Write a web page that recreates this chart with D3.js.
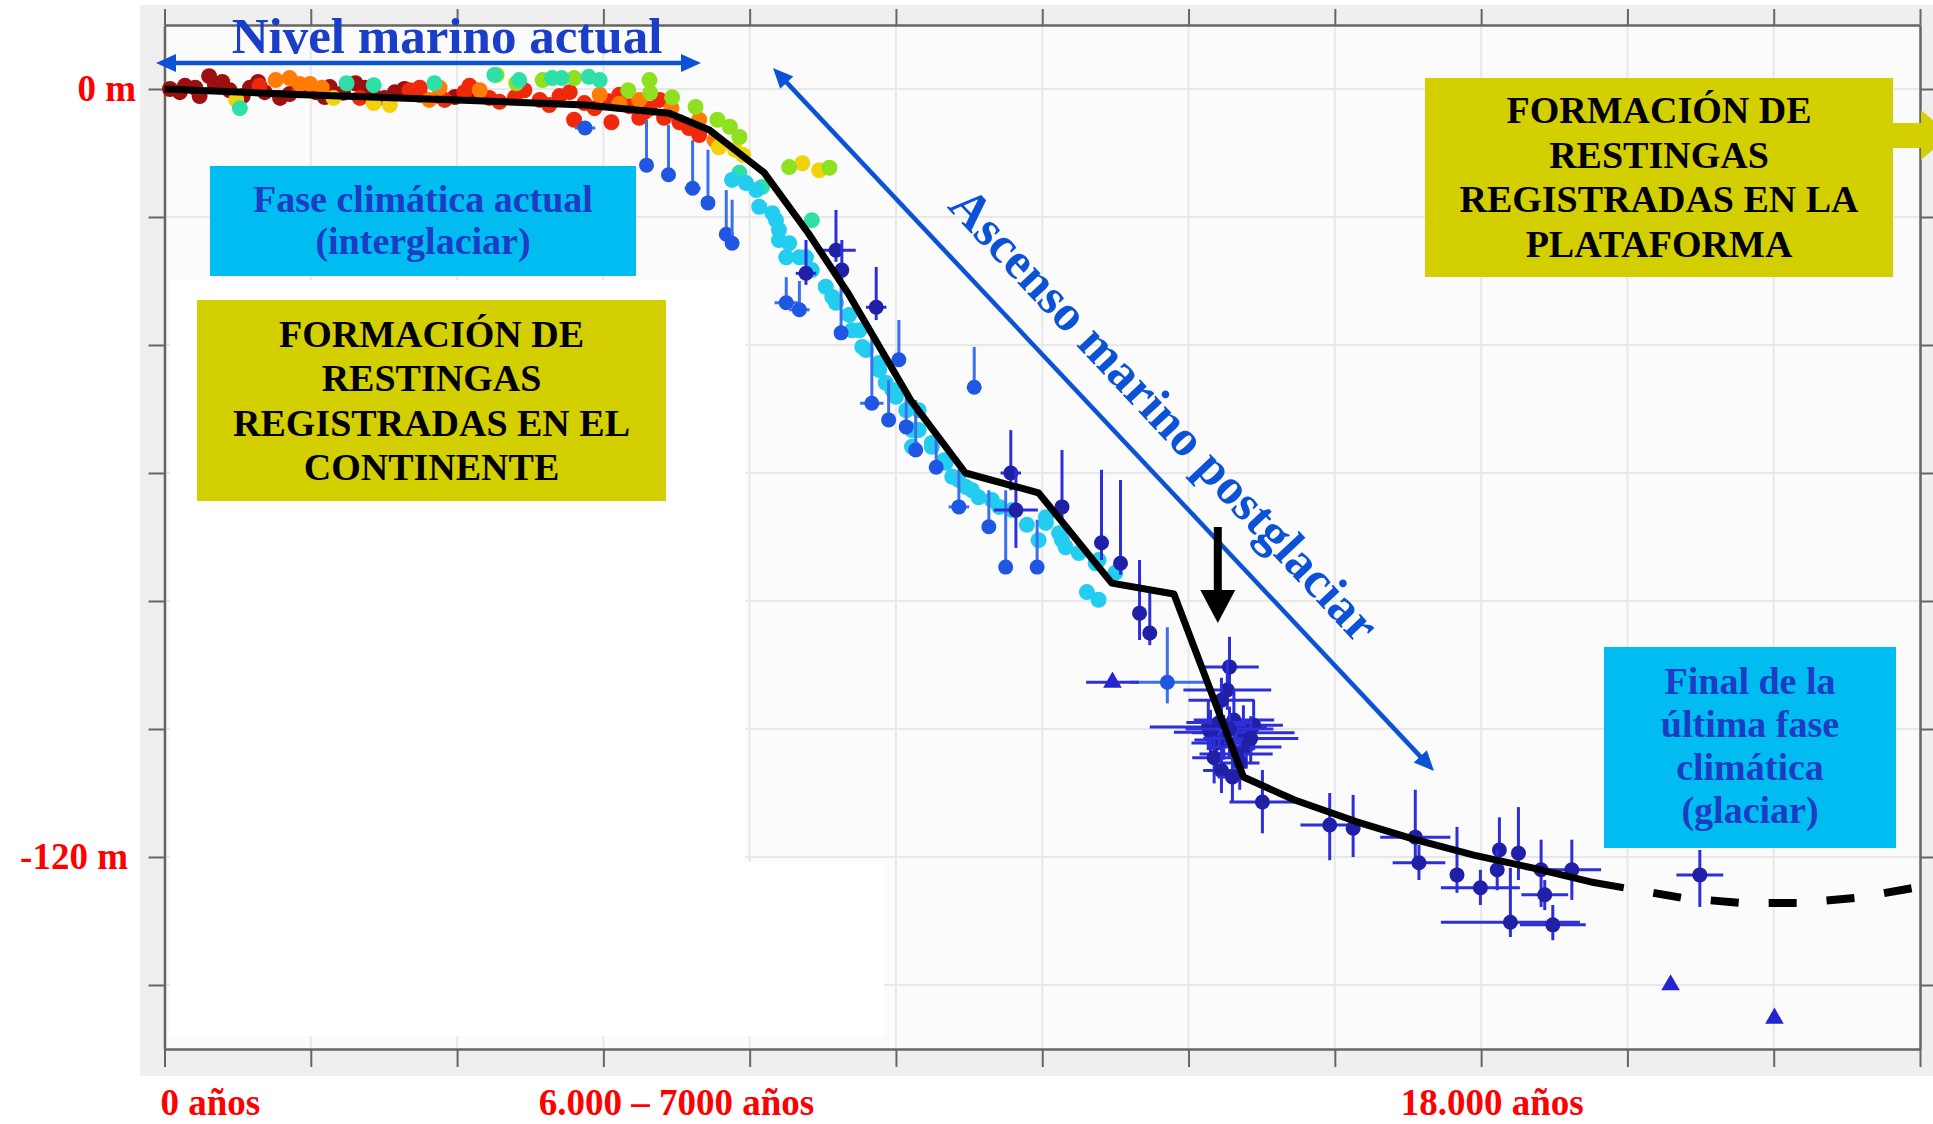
<!DOCTYPE html>
<html>
<head>
<meta charset="utf-8">
<script src="https://cdn.jsdelivr.net/npm/d3@7"></script>
<style>
  body { margin: 0; background: #fff; }
  svg { display: block; }
  text { font-family: "Liberation Serif", "Times New Roman", serif; font-weight: bold; }
</style>
</head>
<body>
<div id="chart"></div>
<script>
/* global d3 */

var width = 1933,
  height = 1124;

// axis ticks (years before present, metres)
var yearTicks = [ 0, 2000, 4000, 6000, 8000, 10000, 12000, 14000, 16000, 18000, 20000, 22000, 24000 ];
var levelTicks = [ -140, -120, -100, -80, -60, -40, -20, 0 ];
var yLabelValues = [ 0, -120 ];
var yLabelText = [ "0 m", "-120 m" ];
var xLabelYears = [ 0, 7000, 18000 ];
var xLabelText = [ "0 años", "6.000 \u2013 7000 años", "18.000 años" ];

// sea level curve
var curveYears = [ 0, 1900, 4000, 5750, 6900, 7450, 8200, 8800, 9350, 10200, 10950, 11950, 12950, 13800, 14750, 15450, 16300, 17100, 17900, 18700, 19500, 19950 ];
var curveLevels = [ 0, -0.9, -1.7, -2.5, -3.8, -6.4, -13.1, -22.5, -32.0, -48.6, -60.0, -63.1, -77.2, -78.9, -107.5, -111.1, -114.5, -117.3, -119.7, -121.7, -123.9, -124.8 ];
var dashedYears = [ 19950, 20760, 21560, 22330, 23190, 23970 ];
var dashedLevels = [ -124.8, -126.4, -127.2, -127.2, -126.3, -124.7 ];

// holocene records, [year, level], one array per colour
var darkRedPts = [ [75,0],[210,-0.5],[280,0.5],[420,0.2],[480,-1.1],[610,2.0],[690,0.6],[790,1.1],[890,-0.2],[1070,-1.1],[1170,0.2],[1280,1.1],[1370,-0.5],
  [1580,-1.4],[1710,-0.8],[1850,0.5],[2070,-0.5],[2190,-1.25],[2260,0.3],[2440,-0.6],[2610,0.9],[2740,0.2],[2870,-1.1],[3010,-1.4],[3150,-0.5],
  [3280,0],[3490,-0.9],[3970,-1.25],[4240,-0.2] ];
var redPts = [ [1300,0.5],[1850,-0.2],[2670,-1.4],[3350,-0.2],[3490,0.2],[3760,-1.1],[3830,-1.7],[4100,-0.5],[4170,0.5],[4440,-1.4],[4580,-2.0],
  [4790,-1.3],[4920,-0.2],[5130,-1.7],[5260,-2.5],[5400,-1.1],[5540,-0.5],[5600,-4.8],[5740,-2.2],[5880,-3.0],[6080,-1.9],[6110,-5.2],[6220,-0.9],
  [6360,-2.7],[6490,-4.5],[6560,-3.6],[6630,-3.1],[6770,-1.7],[6830,-4.5],[7040,-5.2],[7170,-6.1],[7310,-7.2] ];
var orangePts = [ [1520,1.4],[1710,1.7],[1850,0.8],[1990,0.8],[2150,0.2],[3620,-1.7],[3760,0.2],[4310,-0.2],[5950,-0.9],[6220,-2.3],[6490,-1.7],
  [6930,-3.0],[7310,-4.8],[7520,-8.0] ];
var yellowPts = [ [980,-1.7],[2310,-1.4],[2860,-2.2],[3080,-2.5],[7580,-9.1],[7800,-9.5],[7910,-10.3],[8720,-11.6],[8950,-12.7] ];
var greenPts = [ [4540,2.2],[4810,0.9],[5170,1.4],[5600,1.7],[6340,-0.2],[6640,-0.6],[6940,-1.3],[7260,-2.8],[7560,-4.8],[7730,-5.9],[7860,-7.5],
  [8540,-12.2],[9090,-12.3],[6630,1.4] ];
var tealPts = [ [1030,-3.0],[2490,0.9],[2860,0.6],[3690,0.9],[4510,2.2],[4850,1.4],[5300,1.7],[5430,1.7],[5800,1.9],[5950,1.4],[7860,-13.1],
  [8170,-15.3],[8850,-20.5] ];
var cyanPts = [ [7760,-14.2],[7950,-14.7],[8090,-15.8],[8130,-18.4],[8310,-19.4],[8360,-20.5],[8400,-22.0],[8400,-23.6],[8500,-26.3],[8540,-24.1],
  [8680,-26.3],[8770,-26.3],[8850,-28.3],[9040,-30.9],[9130,-32.5],[9180,-33.4],[9360,-35.3],[9400,-37.7],[9500,-37.7],[9540,-40.3],[9590,-40.8],
  [9770,-42.8],[9770,-43.9],[9860,-45.9],[9950,-47.0],[10000,-48.1],[10140,-50.2],[10220,-53.3],[10220,-55.9],[10310,-50.2],[10310,-53.3],
  [10490,-55.3],[10490,-55.9],[10660,-58.0],[10680,-58.4],[10770,-60.6],[10860,-61.1],[10960,-62.2],[11040,-62.7],[11130,-63.8],[11310,-64.2],
  [11410,-65.3],[11590,-65.8],[11790,-68.1],[11950,-70.5],[12050,-66.9],[12050,-67.8],[12230,-69.4],[12270,-70.5],[12320,-71.6],[12500,-72.5],
  [12610,-78.6],[12730,-74.1],[12770,-73.6],[12770,-79.8],[13000,-75.6] ];

var holoGroups = [ darkRedPts, redPts, orangePts, yellowPts, greenPts, tealPts, cyanPts ];
var holoColors = [ "#9e0f0f", "#f0280c", "#ff7c06", "#f2d20a", "#8fe01e", "#2ee0a8", "#22cdf0" ];

// limiting data, [year, level, top, bottom, year error]
var bluePts = [
  [5750,-6.1,-5.2,-6.1,140], [6590,-11.9,-4.8,-11.9,0], [6890,-13.4,-5.6,-13.4,0], [7220,-15.5,-8.0,-15.5,110],
  [7430,-17.8,-9.5,-17.8,0], [7680,-22.7,-15.8,-22.7,80], [7760,-24.1,-17.3,-24.1,0], [8500,-33.4,-29.4,-33.4,160],
  [8680,-34.5,-30.0,-34.5,140], [9250,-38.1,-28.3,-38.1,0], [10040,-42.3,-36.1,-42.3,0], [9670,-49.1,-38.8,-49.1,160],
  [9900,-51.7,-45.5,-51.7,0], [10140,-52.8,-47.0,-52.8,0], [10270,-56.4,-48.6,-56.4,0], [10550,-59.1,-54.7,-59.1,0],
  [11070,-46.6,-40.3,-46.6,0], [10860,-65.3,-59.4,-65.3,140], [11270,-68.4,-62.7,-68.4,0], [11500,-74.7,-62.7,-74.7,0],
  [11930,-74.7,-67.3,-74.7,0], [13710,-92.7,-84.1,-96.0,510]
];

// coral / far-field data with error crosses, [year, level, top, bottom, year error]
var navyPts = [
  [8770,-28.8,-23.6,-30.6,140], [9180,-25.2,-18.9,-27.0,270], [9260,-28.3,-23.6,-29.8,0], [9730,-34.1,-27.8,-36.1,140],
  [11570,-60.0,-53.3,-62.7,140], [11640,-65.8,-59.5,-71.7,300], [12270,-65.3,-56.4,-67.3,0], [12810,-70.9,-59.5,-73.6,0],
  [13070,-74.1,-61.1,-75.9,0], [13330,-81.9,-73.6,-86.1,0], [13470,-85.0,-78.3,-86.9,0],
  [14560,-90.3,-85.6,-94.4,400], [14530,-93.9,-89.2,-97.0,600], [14270,-99.7,-95.5,-103.3,800], [14750,-100.6,-96.3,-104.8,700],
  [14480,-101.7,-97.8,-104.8,400], [14380,-102.2,-98.6,-106.2,340], [14790,-102.8,-99.4,-106.2,480], [14700,-105.3,-101.7,-109.5,270],
  [14620,-98.6,-93.9,-102.5,550], [14890,-99.4,-95.5,-103.3,400], [14300,-100.5,-97.0,-104.0,500], [14420,-99.0,-95.0,-103.0,450],
  [14650,-103.9,-100.0,-108.0,500], [14560,-100.0,-96.5,-104.5,600], [14350,-104.5,-101.0,-108.5,300], [14850,-101.5,-98.0,-105.5,650],
  [14450,-106.5,-103.0,-110.0,250], [14600,-107.5,-104.0,-111.5,200], [14450,-95.5,-92.0,-99.0,450],
  [15010,-111.4,-106.4,-116.3,450], [15930,-115.0,-110.0,-120.5,400],
  [16250,-115.5,-110.3,-120.0,0], [17100,-116.9,-109.5,-120.0,480], [17150,-120.9,-118.1,-123.6,360], [17670,-122.8,-115.3,-125.6,0],
  [17990,-124.8,-122.0,-127.5,540], [18250,-118.9,-113.8,-122.5,0], [18510,-119.4,-112.2,-123.6,0], [18220,-122.0,-118.9,-125.2,0],
  [18820,-122.0,-117.3,-127.8,0], [18870,-125.9,-123.6,-128.3,320], [19240,-122.0,-117.3,-126.7,400], [18400,-130.2,-121.7,-132.5,950],
  [18980,-130.6,-127.5,-133.0,450], [20990,-122.8,-118.9,-127.8,320]
];

// triangles, [year, level, year error]
var trianglePts = [ [12960,-92.7,360], [20590,-140.0,0], [22010,-145.2,0] ];

var x = d3.scaleLinear().domain( [ 0, 24000 ] ).range( [ 164.5, 1920 ] );
var y = d3.scaleLinear().domain( [ -150, 10 ] ).range( [ 1049, 25 ] );

var svg = d3.select( "#chart" ).append( "svg" )
  .attr( "width", width )
  .attr( "height", height );

// grey figure margin and plot area
svg.append( "rect" ).attr( "x", 140 ).attr( "y", 5 ).attr( "width", 1793 ).attr( "height", 1071 ).attr( "fill", "#efefef" );
svg.append( "rect" )
  .attr( "x", x( 0 ) ).attr( "y", y( 10 ) )
  .attr( "width", x( 24000 ) - x( 0 ) ).attr( "height", y( -150 ) - y( 10 ) )
  .attr( "fill", "#fbfbfb" );

// faint grid
var grid = svg.append( "g" ).attr( "stroke", "#e8e8e8" ).attr( "stroke-width", 2 );
grid.selectAll( ".gx" ).data( yearTicks ).enter().append( "line" )
  .attr( "x1", x ).attr( "x2", x ).attr( "y1", y( 10 ) ).attr( "y2", y( -150 ) );
grid.selectAll( ".gy" ).data( levelTicks ).enter().append( "line" )
  .attr( "x1", x( 0 ) ).attr( "x2", x( 24000 ) ).attr( "y1", y ).attr( "y2", y );

// white patches pasted over the lower left of the graph
svg.append( "rect" ).attr( "x", 170 ).attr( "y", 280 ).attr( "width", 575 ).attr( "height", 756 ).attr( "fill", "#fff" );
svg.append( "rect" ).attr( "x", 745 ).attr( "y", 862 ).attr( "width", 139 ).attr( "height", 174 ).attr( "fill", "#fff" );

// axes, ticks only
function styleAxis( g ) {
  g.select( ".domain" ).attr( "stroke", "#666" ).attr( "stroke-width", 2.5 );
  g.selectAll( ".tick line" ).attr( "stroke", "#666" ).attr( "stroke-width", 2 );
  g.selectAll( ".tick text" ).remove();
}
svg.append( "g" ).attr( "transform", "translate(0," + y( -150 ) + ")" )
  .call( d3.axisBottom( x ).tickValues( yearTicks ).tickSize( 18 ).tickSizeOuter( 0 ).tickFormat( "" ) ).call( styleAxis );
svg.append( "g" ).attr( "transform", "translate(0," + y( 10 ) + ")" )
  .call( d3.axisTop( x ).tickValues( yearTicks ).tickSize( 16 ).tickSizeOuter( 0 ).tickFormat( "" ) ).call( styleAxis );
svg.append( "g" ).attr( "transform", "translate(" + x( 0 ) + ",0)" )
  .call( d3.axisLeft( y ).tickValues( levelTicks ).tickSize( 16 ).tickSizeOuter( 0 ).tickFormat( "" ) ).call( styleAxis );
svg.append( "g" ).attr( "transform", "translate(" + x( 24000 ) + ",0)" )
  .call( d3.axisRight( y ).tickValues( levelTicks ).tickSize( 13 ).tickSizeOuter( 0 ).tickFormat( "" ) ).call( styleAxis );

// red axis labels
svg.selectAll( ".ylab" ).data( yLabelValues ).enter().append( "text" )
  .attr( "x", function( d, i ) { return i === 0 ? 136 : 128; } )
  .attr( "y", function( d ) { return y( d ) + 12; } )
  .attr( "text-anchor", "end" )
  .attr( "fill", "#ff0000" )
  .style( "font-size", "37px" )
  .text( function( d, i ) { return yLabelText[ i ]; } );

svg.selectAll( ".xlab" ).data( xLabelYears ).enter().append( "text" )
  .attr( "x", function( d, i ) { return i === 0 ? x( d ) - 4 : i === 2 ? x( d ) + 11 : x( d ); } )
  .attr( "y", 1115 )
  .attr( "text-anchor", function( d, i ) { return i === 0 ? "start" : "middle"; } )
  .attr( "fill", "#ff0000" )
  .style( "font-size", "37px" )
  .text( function( d, i ) { return xLabelText[ i ]; } );

// data
var marks = svg.append( "g" );

holoGroups.forEach( function( pts, k ) {
  marks.append( "g" ).selectAll( "circle" ).data( pts ).enter().append( "circle" )
    .attr( "cx", function( d ) { return x( d[ 0 ] ); } )
    .attr( "cy", function( d ) { return y( d[ 1 ] ); } )
    .attr( "r", 8 )
    .attr( "fill", holoColors[ k ] );
} );

function errorPoints( pts, barColor, dotColor ) {
  var g = marks.append( "g" );
  var p = g.selectAll( "g" ).data( pts ).enter().append( "g" );
  p.append( "line" )
    .attr( "x1", function( d ) { return x( d[ 0 ] ); } )
    .attr( "x2", function( d ) { return x( d[ 0 ] ); } )
    .attr( "y1", function( d ) { return y( d[ 2 ] ); } )
    .attr( "y2", function( d ) { return y( d[ 3 ] ); } )
    .attr( "stroke", barColor ).attr( "stroke-width", 3 );
  p.filter( function( d ) { return d[ 4 ] > 0; } ).append( "line" )
    .attr( "x1", function( d ) { return x( d[ 0 ] - d[ 4 ] ); } )
    .attr( "x2", function( d ) { return x( d[ 0 ] + d[ 4 ] ); } )
    .attr( "y1", function( d ) { return y( d[ 1 ] ); } )
    .attr( "y2", function( d ) { return y( d[ 1 ] ); } )
    .attr( "stroke", barColor ).attr( "stroke-width", 3 );
  p.append( "circle" )
    .attr( "cx", function( d ) { return x( d[ 0 ] ); } )
    .attr( "cy", function( d ) { return y( d[ 1 ] ); } )
    .attr( "r", 7.5 )
    .attr( "fill", dotColor );
}

errorPoints( bluePts, "#3a6ff0", "#1f56e2" );
errorPoints( navyPts, "#2d2fd8", "#1f1fa8" );

var tri = marks.append( "g" ).selectAll( "g" ).data( trianglePts ).enter().append( "g" );
tri.filter( function( d ) { return d[ 2 ] > 0; } ).append( "line" )
  .attr( "x1", function( d ) { return x( d[ 0 ] - d[ 2 ] ); } )
  .attr( "x2", function( d ) { return x( d[ 0 ] + d[ 2 ] ); } )
  .attr( "y1", function( d ) { return y( d[ 1 ] ); } )
  .attr( "y2", function( d ) { return y( d[ 1 ] ); } )
  .attr( "stroke", "#2d2fd8" ).attr( "stroke-width", 3 );
tri.append( "path" )
  .attr( "d", d3.symbol( d3.symbolTriangle ).size( 150 ) )
  .attr( "transform", function( d ) { return "translate(" + x( d[ 0 ] ) + "," + y( d[ 1 ] ) + ")"; } )
  .attr( "fill", "#2424d0" );

// sea level curve
var line = d3.line()
  .x( function( d ) { return x( d[ 0 ] ); } )
  .y( function( d ) { return y( d[ 1 ] ); } );

svg.append( "path" )
  .datum( curveYears.map( function( v, i ) { return [ v, curveLevels[ i ] ]; } ) )
  .attr( "d", line )
  .attr( "fill", "none" ).attr( "stroke", "#000" ).attr( "stroke-width", 7 )
  .attr( "stroke-linejoin", "round" );

svg.append( "path" )
  .datum( dashedYears.map( function( v, i ) { return [ v, dashedLevels[ i ] ]; } ) )
  .attr( "d", line )
  .attr( "fill", "none" ).attr( "stroke", "#000" ).attr( "stroke-width", 8 )
  .attr( "stroke-dasharray", "28,30" ).attr( "stroke-dashoffset", 28 );

// annotations
var ann = svg.append( "g" );

function arrowHead( g, x1, y1, x2, y2, len, half, color ) {
  var a = Math.atan2( y2 - y1, x2 - x1 );
  var bx = x2 - len * Math.cos( a ), by = y2 - len * Math.sin( a );
  var px = -Math.sin( a ) * half, py = Math.cos( a ) * half;
  g.append( "path" )
    .attr( "d", "M" + x2 + "," + y2 + "L" + ( bx + px ) + "," + ( by + py ) + "L" + ( bx - px ) + "," + ( by - py ) + "Z" )
    .attr( "fill", color );
}

function doubleArrow( g, x1, y1, x2, y2, color ) {
  var a = Math.atan2( y2 - y1, x2 - x1 ), len = 20;
  g.append( "line" )
    .attr( "x1", x1 + len * 0.8 * Math.cos( a ) ).attr( "y1", y1 + len * 0.8 * Math.sin( a ) )
    .attr( "x2", x2 - len * 0.8 * Math.cos( a ) ).attr( "y2", y2 - len * 0.8 * Math.sin( a ) )
    .attr( "stroke", color ).attr( "stroke-width", 4.5 );
  arrowHead( g, x1, y1, x2, y2, len, 9, color );
  arrowHead( g, x2, y2, x1, y1, len, 9, color );
}

doubleArrow( ann, 156, 63, 701, 63, "#0b52d6" );
doubleArrow( ann, 773, 68, 1434, 771, "#0b52d6" );

ann.append( "text" )
  .attr( "x", 447 ).attr( "y", 53 )
  .attr( "text-anchor", "middle" )
  .attr( "fill", "#1b3ec9" )
  .style( "font-size", "51px" )
  .text( "Nivel marino actual" );

ann.append( "text" )
  .attr( "transform", "translate(1165,414) rotate(46.8)" )
  .attr( "dy", "0.35em" )
  .attr( "text-anchor", "middle" )
  .attr( "fill", "#0b52d6" )
  .style( "font-size", "51px" )
  .text( "Ascenso marino postglaciar" );

// black arrow at the meltwater pulse
ann.append( "rect" ).attr( "x", x( 14400 ) - 4 ).attr( "y", 527 ).attr( "width", 8 ).attr( "height", 66 ).attr( "fill", "#000" );
arrowHead( ann, x( 14400 ), 527, x( 14400 ), 623, 33, 17.5, "#000" );

var boxes = [
  { x: 210, y: 166, w: 426, h: 110, fill: "#00bcf0", color: "#1d3cc4", lines: [ "Fase climática actual", "(interglaciar)" ], base: 212, step: 42 },
  { x: 197, y: 300, w: 469, h: 201, fill: "#d4cf00", color: "#000", lines: [ "FORMACIÓN DE", "RESTINGAS", "REGISTRADAS EN EL", "CONTINENTE" ], base: 347, step: 44.3 },
  { x: 1425, y: 78, w: 468, h: 199, fill: "#d4cf00", color: "#000", lines: [ "FORMACIÓN DE", "RESTINGAS", "REGISTRADAS EN LA", "PLATAFORMA" ], base: 123, step: 44.7 },
  { x: 1604, y: 647, w: 292, h: 201, fill: "#00bcf0", color: "#1d3cc4", lines: [ "Final de la", "última fase", "climática", "(glaciar)" ], base: 694, step: 43 }
];

// block arrow leaving the platform box
ann.append( "path" )
  .attr( "d", "M1890,123L1921,123L1921,110L1950,135L1921,160L1921,148L1890,148Z" )
  .attr( "fill", "#d4cf00" );

boxes.forEach( function( b ) {
  var g = ann.append( "g" );
  g.append( "rect" ).attr( "x", b.x ).attr( "y", b.y ).attr( "width", b.w ).attr( "height", b.h ).attr( "fill", b.fill );
  g.selectAll( "text" ).data( b.lines ).enter().append( "text" )
    .attr( "x", b.x + b.w / 2 )
    .attr( "y", function( d, i ) { return b.base + i * b.step; } )
    .attr( "text-anchor", "middle" )
    .attr( "fill", b.color )
    .style( "font-size", "38px" )
    .text( function( d ) { return d; } );
} );
</script>
</body>
</html>
